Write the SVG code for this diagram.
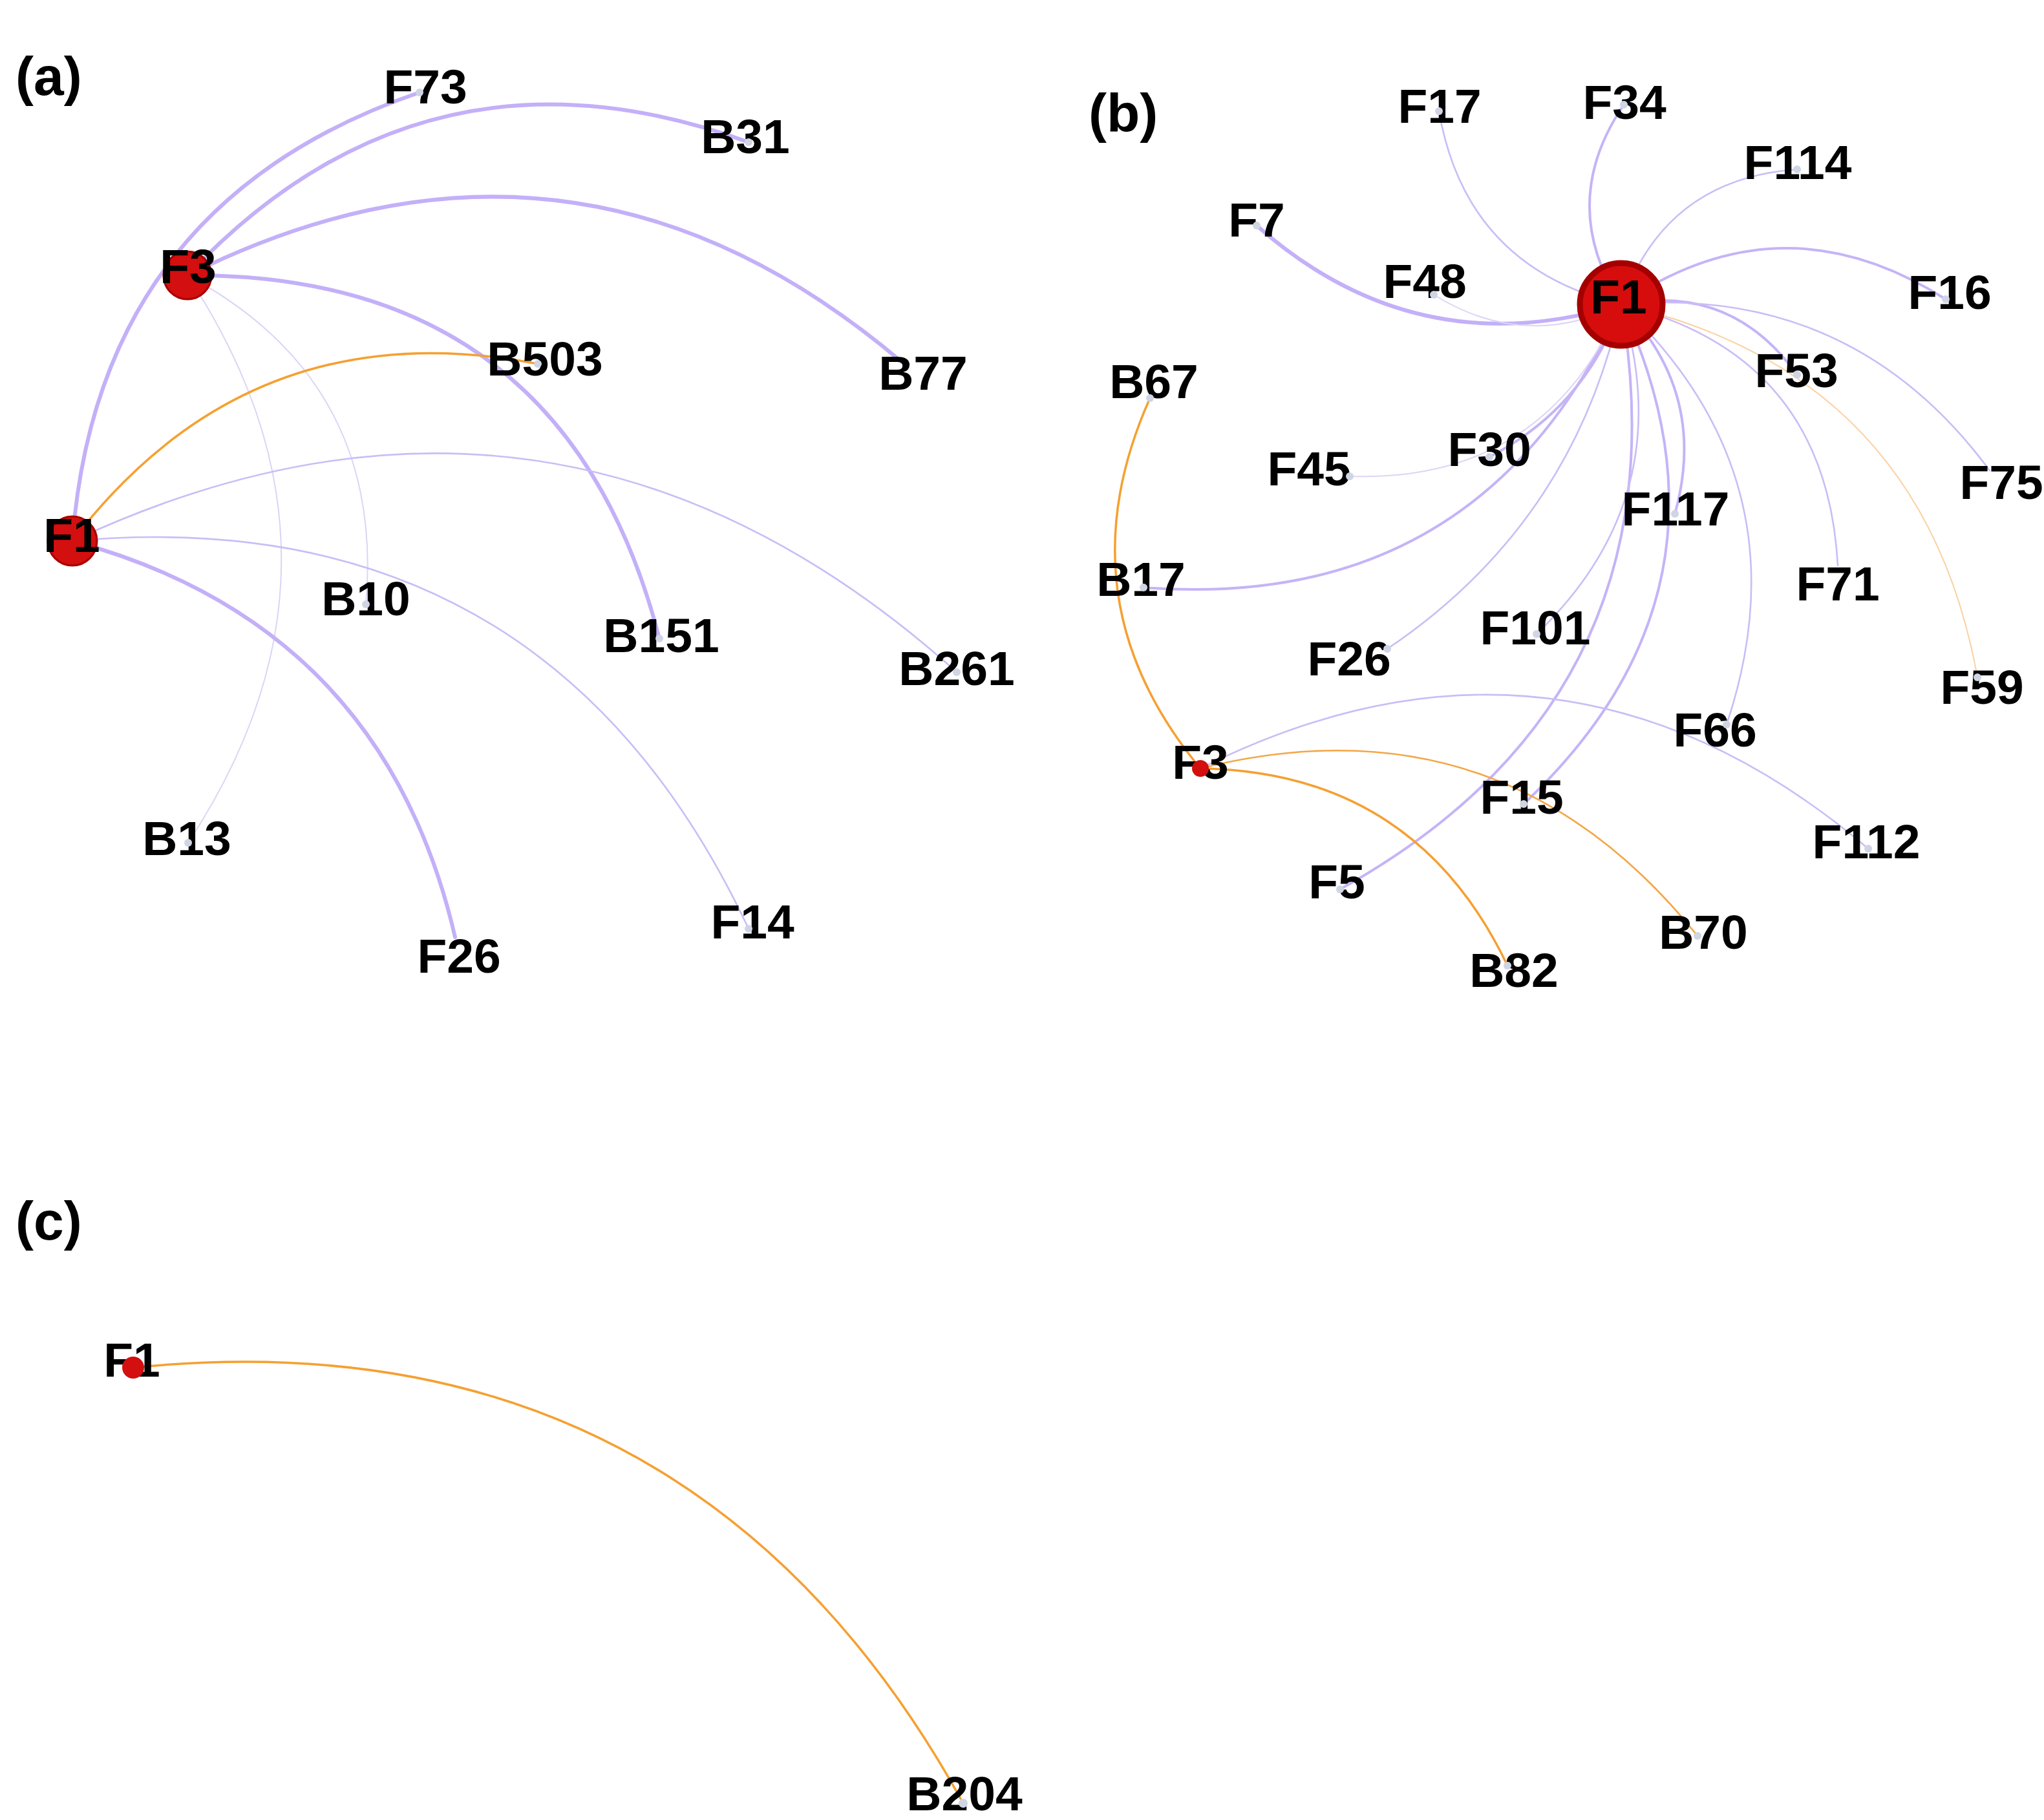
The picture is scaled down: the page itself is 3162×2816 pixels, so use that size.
<svg xmlns="http://www.w3.org/2000/svg" width="3162" height="2816" viewBox="0 0 3162 2816">
<style>
.e{fill:none;stroke-linecap:round}
.thick{stroke:#c3b0f8;stroke-width:6}
.med{stroke:#c5b4f7;stroke-width:4}
.thin{stroke:#cabdf6;stroke-width:2.6}
.faint{stroke:#dcd5f6;stroke-width:2}
.or{stroke:#f5a031;stroke-width:3.5}
.or2{stroke:#f5a545;stroke-width:2.6}
.orf{stroke:#f9d2a2;stroke-width:2}
.lbl{font-family:"Liberation Sans",Arial,sans-serif;font-weight:bold;font-size:75px;text-anchor:middle;fill:#000}
.panel{font-family:"Liberation Sans",Arial,sans-serif;font-weight:bold;font-size:84px;fill:#000}
.hub{fill:#d30f0f;stroke:#a80000;stroke-width:3}
.dot{fill:#cfd5e3}
</style>
<rect width="3162" height="2816" fill="#ffffff"/>
<text class="panel" x="24" y="147">(a)</text>
<text class="panel" x="1684" y="204">(b)</text>
<text class="panel" x="24" y="1918">(c)</text>
<g id="connectors">
<!-- panel a -->
<path class="e thick" d="M112,837 Q151.5,313 649,143"/>
<path class="e thick" d="M290,426 Q656,37 1158,220"/>
<path class="e thick" d="M290,426 Q886,128 1395,560"/>
<path class="e thick" d="M290,426 Q874,422 1020,988"/>
<path class="e faint" d="M290,426 Q580,865 291,1304"/>
<path class="e faint" d="M290,426 Q596,590 566,935"/>
<path class="e or" d="M112,837 Q387,477 832,563"/>
<path class="e thin" d="M112,837 Q863,487 1480,1040"/>
<path class="e thin" d="M112,837 Q845,771 1158,1437"/>
<path class="e thick" d="M112,837 Q592,966 704,1450"/>
<!-- panel b -->
<path class="e thin" d="M2508,471 Q2268,414 2226,172"/>
<path class="e med" d="M2508,471 Q2408,315 2512,162"/>
<path class="e thin" d="M2508,471 Q2575,277 2780,262"/>
<path class="e med" d="M2508,471 Q2756,301 3010,463"/>
<path class="e thick" d="M2508,471 Q2192,568 1944,349"/>
<path class="e faint" d="M2508,471 Q2359,544 2218,456"/>
<path class="e med" d="M2508,471 Q2679,438 2780,580"/>
<path class="e thin" d="M2508,471 Q2865,440 3078,728"/>
<path class="e orf" d="M2508,471 Q2974,578 3059,1048"/>
<path class="e thin" d="M2508,471 Q2825,549 2843,875"/>
<path class="e thin" d="M2508,471 Q2797,744 2671,1121"/>
<path class="e med" d="M2508,471 Q2643,609 2591,795"/>
<path class="e med" d="M2508,471 Q2711,911 2357,1244"/>
<path class="e med" d="M2508,471 Q2611,1077 2073,1376"/>
<path class="e thin" d="M2508,471 Q2600,767 2377,981"/>
<path class="e thin" d="M2508,471 Q2434,810 2146,1004"/>
<path class="e med" d="M2508,471 Q2291,949 1769,909"/>
<path class="e med" d="M2508,471 Q2453,630 2304,707"/>
<path class="e faint" d="M2508,471 Q2388,747 2088,737"/>
<path class="e or" d="M1857,1189 Q1640,927 1779,616"/>
<path class="e or2" d="M1857,1189 Q2324,1072 2626,1448"/>
<path class="e or" d="M1857,1189 Q2189,1194 2332,1494"/>
<path class="e thin" d="M1857,1189 Q2414,910 2890,1313"/>
<!-- panel c -->
<path class="e or" d="M206,2116 Q1070,2029 1490,2790"/>
</g>
<!-- panel a nodes -->
<g id="a-F3"><circle class="hub" cx="290" cy="426" r="37"/><text class="lbl" x="291" y="438">F3</text></g>
<g id="a-F1"><circle class="hub" cx="112" cy="837" r="38"/><text class="lbl" x="111" y="854">F1</text></g>
<g id="a-F73"><text class="lbl" x="658" y="160">F73</text><circle class="dot" cx="649" cy="143" r="6"/></g>
<g id="a-B31"><text class="lbl" x="1153" y="237">B31</text><circle class="dot" cx="1158" cy="220" r="6"/></g>
<g id="a-B503"><text class="lbl" x="843" y="581">B503</text><circle class="dot" cx="832" cy="563" r="6"/></g>
<g id="a-B77"><text class="lbl" x="1428" y="603">B77</text></g>
<g id="a-B10"><text class="lbl" x="566" y="952">B10</text><circle class="dot" cx="566" cy="935" r="6"/></g>
<g id="a-B151"><text class="lbl" x="1023" y="1009">B151</text><circle class="dot" cx="1020" cy="988" r="6"/></g>
<g id="a-B261"><text class="lbl" x="1480" y="1060">B261</text><circle class="dot" cx="1480" cy="1040" r="6"/></g>
<g id="a-B13"><text class="lbl" x="289" y="1323">B13</text><circle class="dot" cx="291" cy="1304" r="6"/></g>
<g id="a-F26"><text class="lbl" x="710" y="1505">F26</text></g>
<g id="a-F14"><text class="lbl" x="1164" y="1452">F14</text><circle class="dot" cx="1158" cy="1437" r="6"/></g>
<!-- panel b nodes -->
<g id="b-F1"><circle cx="2508" cy="471" r="64" fill="#d70d0d" stroke="#a50000" stroke-width="9"/><text class="lbl" x="2504" y="485">F1</text></g>
<g id="b-F3"><text class="lbl" x="1857" y="1205">F3</text><circle cx="1857" cy="1189" r="13" fill="#d30f0f"/></g>
<g id="b-F17"><text class="lbl" x="2227" y="190">F17</text><circle class="dot" cx="2226" cy="172" r="6"/></g>
<g id="b-F34"><text class="lbl" x="2513" y="184">F34</text><circle class="dot" cx="2512" cy="162" r="6"/></g>
<g id="b-F114"><text class="lbl" x="2781" y="277">F114</text><circle class="dot" cx="2780" cy="262" r="6"/></g>
<g id="b-F7"><text class="lbl" x="1944" y="366">F7</text><circle class="dot" cx="1944" cy="349" r="6"/></g>
<g id="b-F48"><text class="lbl" x="2204" y="461">F48</text><circle class="dot" cx="2218" cy="456" r="6"/></g>
<g id="b-F16"><text class="lbl" x="3016" y="478">F16</text><circle class="dot" cx="3010" cy="463" r="6"/></g>
<g id="b-B67"><text class="lbl" x="1785" y="616">B67</text><circle class="dot" cx="1779" cy="616" r="6"/></g>
<g id="b-F53"><text class="lbl" x="2779" y="599">F53</text><circle class="dot" cx="2780" cy="580" r="6"/></g>
<g id="b-F30"><text class="lbl" x="2304" y="721">F30</text><circle class="dot" cx="2304" cy="707" r="6"/></g>
<g id="b-F45"><text class="lbl" x="2025" y="751">F45</text><circle class="dot" cx="2088" cy="737" r="6"/></g>
<g id="b-F75"><text class="lbl" x="3096" y="772">F75</text></g>
<g id="b-F117"><text class="lbl" x="2592" y="813">F117</text><circle class="dot" cx="2591" cy="795" r="6"/></g>
<g id="b-B17"><text class="lbl" x="1765" y="922">B17</text><circle class="dot" cx="1769" cy="909" r="6"/></g>
<g id="b-F71"><text class="lbl" x="2843" y="929">F71</text></g>
<g id="b-F101"><text class="lbl" x="2375" y="997">F101</text><circle class="dot" cx="2377" cy="981" r="6"/></g>
<g id="b-F26"><text class="lbl" x="2087" y="1045">F26</text><circle class="dot" cx="2146" cy="1004" r="6"/></g>
<g id="b-F59"><text class="lbl" x="3066" y="1089">F59</text><circle class="dot" cx="3059" cy="1048" r="6"/></g>
<g id="b-F66"><text class="lbl" x="2653" y="1155">F66</text><circle class="dot" cx="2671" cy="1121" r="6"/></g>
<g id="b-F15"><text class="lbl" x="2354" y="1259">F15</text><circle class="dot" cx="2357" cy="1244" r="6"/></g>
<g id="b-F112"><text class="lbl" x="2887" y="1328">F112</text><circle class="dot" cx="2890" cy="1313" r="6"/></g>
<g id="b-F5"><text class="lbl" x="2068" y="1390">F5</text><circle class="dot" cx="2073" cy="1376" r="6"/></g>
<g id="b-B70"><text class="lbl" x="2635" y="1468">B70</text><circle class="dot" cx="2626" cy="1448" r="6"/></g>
<g id="b-B82"><text class="lbl" x="2342" y="1527">B82</text><circle class="dot" cx="2332" cy="1494" r="6"/></g>
<!-- panel c nodes -->
<g id="c-F1"><text class="lbl" x="204" y="2130">F1</text><circle cx="206" cy="2116" r="17" fill="#d30f0f"/></g>
<g id="c-B204"><text class="lbl" x="1492" y="2801">B204</text><circle class="dot" cx="1490" cy="2790" r="7"/></g>
</svg>
